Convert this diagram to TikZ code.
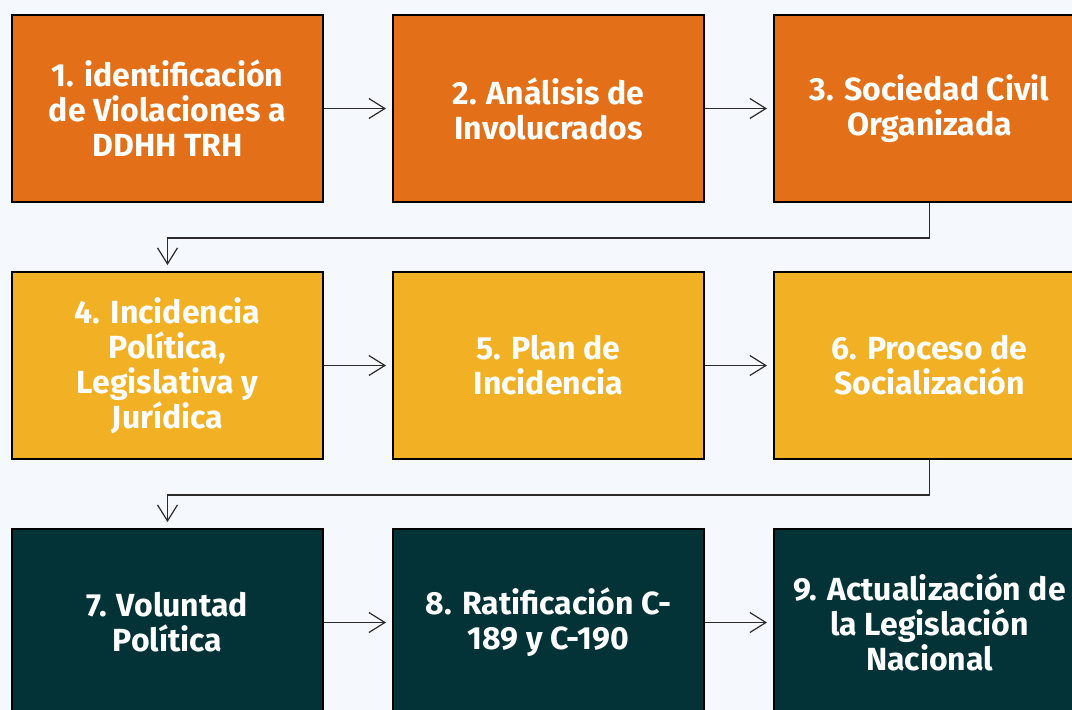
\documentclass[tikz,border=0pt]{standalone}
\usepackage{fontspec}
\setmainfont{Fira Sans}
\usetikzlibrary{arrows.meta}
\definecolor{bgc}{HTML}{F5F8FD}
\definecolor{orangec}{HTML}{E37019}
\definecolor{yellowc}{HTML}{F2B124}
\definecolor{tealc}{HTML}{033337}
\definecolor{linec}{HTML}{2B2B2B}
\tikzset{
  stepbox/.style={draw=black, line width=2pt, minimum width=311pt, minimum height=187pt,
    inner sep=0pt, align=center, text=white,
    font=\fontsize{32}{35}\selectfont\bfseries},
  conn/.style={draw=linec, line width=1.2pt, -{Straight Barb[length=16pt,width=20pt,line width=1.2pt]}, shorten >=6pt}
}
\begin{document}
\begin{tikzpicture}[x=1pt,y=-1pt]
\fill[bgc] (0,0) rectangle (1072,710);
\useasboundingbox (0,0) rectangle (1072,710);
\clip (0,0) rectangle (1072,710);
\node[stepbox, fill=orangec] (n1) at (167.5,108.5) {1. identificación\\de Violaciones a\\DDHH TRH};
\node[stepbox, fill=orangec] (n2) at (548.5,108.5) {2. Análisis de\\Involucrados};
\node[stepbox, fill=orangec] (n3) at (929.5,108.5) {3. Sociedad Civil\\Organizada};
\node[stepbox, fill=yellowc] (n4) at (167.5,365.5) {4. Incidencia\\Política,\\Legislativa y\\Jurídica};
\node[stepbox, fill=yellowc] (n5) at (548.5,365.5) {5. Plan de\\Incidencia};
\node[stepbox, fill=yellowc] (n6) at (929.5,365.5) {6. Proceso de\\Socialización};
\node[stepbox, fill=tealc] (n7) at (167.5,622.5) {7. Voluntad\\Política};
\node[stepbox, fill=tealc] (n8) at (548.5,622.5) {8. Ratificación C-\\189 y C-190};
\node[stepbox, fill=tealc] (n9) at (929.5,622.5) {9. Actualización de\\la Legislación\\Nacional};
\draw[conn] (n1) -- (n2);
\draw[conn] (n2) -- (n3);
\draw[conn] (n4) -- (n5);
\draw[conn] (n5) -- (n6);
\draw[conn] (n7) -- (n8);
\draw[conn] (n8) -- (n9);
\draw[conn] (n3.south) -- ++(0,35) -| (n4.north);
\draw[conn] (n6.south) -- ++(0,35) -| (n7.north);
\end{tikzpicture}
\end{document}
